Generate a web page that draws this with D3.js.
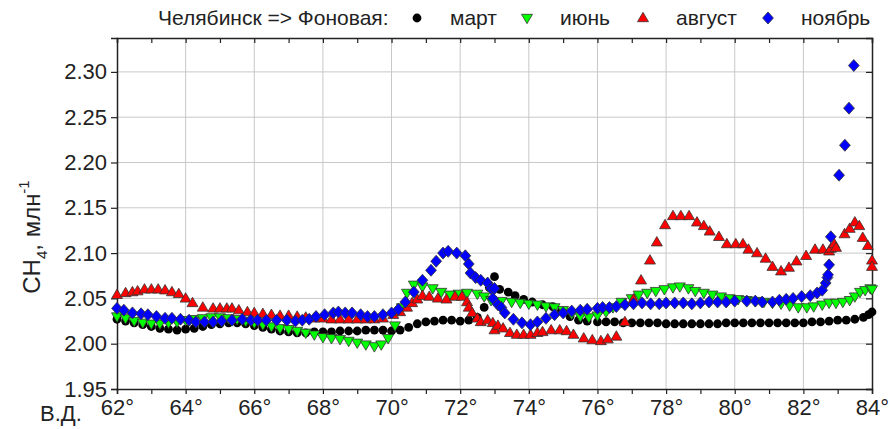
<!DOCTYPE html>
<html>
<head>
<meta charset="utf-8">
<script src="https://cdn.jsdelivr.net/npm/d3@7"></script>
<style>
  body { margin: 0; background: #fff; }
  svg { font-family: "Liberation Sans", Arial, sans-serif; }
</style>
</head>
<body>
<div id="chart"></div>
<script>
// Data: [longitude (deg E), CH4 ppm]
var marchData = [
  [62.0,2.027],[62.25,2.025],[62.5,2.023],[62.75,2.021],[63.0,2.019],[63.25,2.017],[63.5,2.016],[63.75,2.015],
  [64.0,2.016],[64.25,2.017],[64.5,2.019],[64.75,2.021],[65.0,2.022],[65.25,2.023],[65.5,2.023],[65.75,2.022],
  [66.0,2.020],[66.25,2.018],[66.5,2.016],[66.75,2.014],[67.0,2.013],[67.25,2.012],[67.5,2.012],[67.75,2.013],
  [68.0,2.013],[68.25,2.013],[68.5,2.014],[68.75,2.014],[69.0,2.014],[69.25,2.015],[69.5,2.015],[69.75,2.015],
  [70.0,2.014],[70.25,2.015],[70.5,2.018],[70.75,2.022],[71.0,2.024],[71.25,2.025],[71.5,2.026],[71.75,2.026],
  [72.0,2.025],[72.25,2.026],[72.5,2.029],[72.7,2.040],[72.85,2.062],[73.0,2.074],[73.15,2.060],[73.4,2.057],
  [73.6,2.053],[73.85,2.049],[74.1,2.046],[74.4,2.043],[74.7,2.041],[74.95,2.036],[75.2,2.030],[75.45,2.026],
  [75.7,2.025],[76.0,2.024],[76.25,2.024],[76.5,2.024],[76.75,2.023],[77.0,2.023],[77.25,2.023],[77.5,2.023],
  [77.75,2.023],[78.0,2.022],[78.25,2.022],[78.5,2.022],[78.75,2.022],[79.0,2.022],[79.25,2.022],[79.5,2.022],
  [79.75,2.023],[80.0,2.023],[80.25,2.023],[80.5,2.023],[80.75,2.023],[81.0,2.023],[81.25,2.023],[81.5,2.023],
  [81.75,2.023],[82.0,2.023],[82.25,2.024],[82.5,2.024],[82.75,2.025],[83.0,2.026],[83.25,2.026],[83.5,2.027],
  [83.75,2.029],[83.9,2.032],[84.0,2.035]
];
var juneData = [
  [62.0,2.030],[62.25,2.028],[62.5,2.025],[62.75,2.023],[63.0,2.022],[63.25,2.022],[63.5,2.023],[63.75,2.024],
  [64.0,2.026],[64.25,2.027],[64.5,2.028],[64.75,2.029],[65.0,2.029],[65.25,2.028],[65.5,2.027],[65.75,2.025],
  [66.0,2.023],[66.25,2.021],[66.5,2.019],[66.75,2.017],[67.0,2.016],[67.25,2.014],[67.5,2.012],[67.75,2.010],
  [68.0,2.007],[68.25,2.006],[68.5,2.005],[68.75,2.003],[69.0,2.001],[69.25,1.999],[69.5,1.997],[69.7,1.999],
  [69.9,2.006],[70.1,2.020],[70.3,2.040],[70.45,2.056],[70.65,2.065],[70.9,2.063],[71.2,2.061],[71.45,2.057],
  [71.7,2.054],[71.95,2.055],[72.2,2.056],[72.5,2.055],[72.7,2.052],[72.9,2.048],[73.2,2.047],[73.5,2.046],
  [73.75,2.045],[74.0,2.044],[74.25,2.043],[74.5,2.041],[74.75,2.040],[75.0,2.037],[75.25,2.033],[75.5,2.030],
  [75.75,2.029],[76.0,2.031],[76.25,2.035],[76.45,2.040],[76.7,2.046],[77.0,2.050],[77.2,2.054],[77.45,2.056],
  [77.7,2.058],[77.95,2.060],[78.2,2.062],[78.4,2.063],[78.65,2.061],[78.85,2.058],[79.1,2.056],[79.35,2.054],
  [79.6,2.052],[79.85,2.050],[80.1,2.049],[80.35,2.048],[80.6,2.047],[80.85,2.046],[81.1,2.045],[81.35,2.044],
  [81.6,2.042],[81.85,2.040],[82.1,2.040],[82.3,2.041],[82.55,2.043],[82.75,2.045],[82.95,2.045],[83.15,2.046],
  [83.35,2.048],[83.5,2.052],[83.65,2.057],[83.8,2.059],[83.95,2.061],[84.0,2.060]
];
var augustData = [
  [62.0,2.054],[62.25,2.056],[62.45,2.057],[62.6,2.058],[62.8,2.060],[63.0,2.060],[63.2,2.060],[63.4,2.059],
  [63.6,2.057],[63.8,2.055],[64.0,2.050],[64.2,2.045],[64.5,2.040],[64.8,2.039],[65.0,2.039],[65.2,2.039],
  [65.35,2.039],[65.55,2.037],[65.8,2.035],[66.0,2.034],[66.25,2.033],[66.5,2.032],[66.75,2.031],[67.0,2.031],
  [67.25,2.030],[67.5,2.029],[67.75,2.028],[68.0,2.028],[68.25,2.027],[68.5,2.027],[68.75,2.027],[69.0,2.027],
  [69.25,2.027],[69.5,2.027],[69.75,2.028],[70.05,2.032],[70.25,2.035],[70.45,2.040],[70.6,2.045],[70.75,2.049],
  [70.9,2.053],[71.1,2.052],[71.35,2.050],[71.6,2.049],[71.85,2.052],[72.05,2.052],[72.2,2.046],[72.25,2.040],
  [72.35,2.034],[72.5,2.028],[72.6,2.024],[72.8,2.026],[72.95,2.023],[73.0,2.015],[73.1,2.020],[73.25,2.017],
  [73.45,2.012],[73.65,2.010],[73.85,2.010],[74.05,2.010],[74.25,2.012],[74.4,2.013],[74.65,2.015],[74.9,2.015],
  [75.1,2.014],[75.3,2.010],[75.6,2.006],[75.85,2.004],[76.1,2.003],[76.3,2.005],[76.55,2.008],[76.8,2.024],
  [77.05,2.049],[77.27,2.070],[77.53,2.092],[77.73,2.112],[77.97,2.131],[78.2,2.141],[78.43,2.141],[78.67,2.141],
  [78.9,2.134],[79.1,2.130],[79.27,2.124],[79.54,2.118],[79.77,2.110],[80.03,2.110],[80.24,2.110],[80.4,2.104],
  [80.65,2.100],[80.9,2.094],[81.1,2.085],[81.35,2.080],[81.58,2.084],[81.8,2.091],[82.08,2.097],[82.34,2.104],
  [82.57,2.104],[82.75,2.102],[82.8,2.105],[82.9,2.110],[82.95,2.106],[83.2,2.121],[83.35,2.127],[83.5,2.134],
  [83.63,2.130],[83.73,2.117],[83.88,2.108],[84.0,2.092],[84.0,2.085]
];
var novemberData = [
  [62.0,2.039],[62.2,2.037],[62.45,2.034],[62.7,2.033],[62.9,2.032],[63.15,2.030],[63.4,2.028],[63.6,2.028],
  [63.85,2.027],[64.1,2.026],[64.3,2.024],[64.55,2.024],[64.8,2.024],[65.05,2.025],[65.35,2.026],[65.65,2.027],
  [65.9,2.026],[66.1,2.026],[66.35,2.026],[66.65,2.026],[66.95,2.026],[67.2,2.025],[67.4,2.026],[67.6,2.027],
  [67.8,2.030],[68.05,2.032],[68.3,2.034],[68.45,2.035],[68.65,2.034],[68.85,2.034],[69.1,2.032],[69.3,2.030],
  [69.5,2.030],[69.75,2.032],[70.0,2.034],[70.2,2.038],[70.4,2.046],[70.65,2.057],[70.9,2.070],[71.15,2.081],
  [71.3,2.091],[71.5,2.100],[71.65,2.102],[71.9,2.100],[72.15,2.097],[72.25,2.088],[72.3,2.078],[72.45,2.073],
  [72.6,2.070],[72.8,2.067],[72.9,2.061],[73.0,2.061],[72.95,2.050],[73.1,2.043],[73.2,2.040],[73.3,2.034],
  [73.55,2.027],[73.8,2.023],[74.05,2.021],[74.25,2.024],[74.5,2.028],[74.75,2.032],[75.0,2.034],[75.25,2.036],
  [75.5,2.037],[75.7,2.038],[76.0,2.039],[76.15,2.040],[76.35,2.040],[76.55,2.041],[76.8,2.043],[77.05,2.044],
  [77.3,2.045],[77.55,2.044],[77.8,2.044],[78.0,2.045],[78.25,2.045],[78.5,2.045],[78.75,2.044],[79.0,2.045],
  [79.25,2.046],[79.5,2.046],[79.75,2.046],[80.0,2.047],[80.35,2.047],[80.6,2.047],[80.8,2.046],[81.1,2.046],
  [81.3,2.048],[81.5,2.049],[81.7,2.050],[81.95,2.052],[82.2,2.053],[82.4,2.056],[82.55,2.059],[82.65,2.067],
  [82.7,2.073],[82.72,2.076],[82.75,2.087],[82.8,2.118],[83.04,2.186],[83.21,2.219],[83.33,2.260],[83.47,2.307]
];

var seriesNames = ["март", "июнь", "август", "ноябрь"];
var seriesColors = ["#000000", "#00ff00", "#ff0000", "#0000ff"];
var seriesShapes = ["circle", "down", "up", "diamond"];
var legendTitle = "Челябинск => Фоновая:";
var yTicks = [1.95, 2.00, 2.05, 2.10, 2.15, 2.20, 2.25, 2.30];
var xTicks = [62, 64, 66, 68, 70, 72, 74, 76, 78, 80, 82, 84];
var xMinor = [63, 65, 67, 69, 71, 73, 75, 77, 79, 81, 83];

// Placement (plot frame in px)
var width = 890, height = 429,
  pLeft = 117, pRight = 872, pTop = 38, pBottom = 389;

var svg = d3.select("#chart").append("svg")
  .attr("width", width)
  .attr("height", height);

var x = d3.scaleLinear().domain([62, 84]).range([pLeft, pRight]);
var y = d3.scaleLinear().domain([1.95, 2.3374]).range([pBottom, pTop]);

// grid
svg.append("g").selectAll("line")
  .data(yTicks.slice(1))
  .enter().append("line")
  .attr("x1", pLeft).attr("x2", pRight)
  .attr("y1", function(d) { return y(d); })
  .attr("y2", function(d) { return y(d); })
  .attr("stroke", "#c8c8c8").attr("stroke-width", 1);

svg.append("g").selectAll("line")
  .data(xTicks.slice(1, -1))
  .enter().append("line")
  .attr("y1", pTop).attr("y2", pBottom)
  .attr("x1", function(d) { return x(d); })
  .attr("x2", function(d) { return x(d); })
  .attr("stroke", "#c8c8c8").attr("stroke-width", 1);

// axes
var bottomAxis = svg.append("g")
  .attr("transform", "translate(0," + pBottom + ")")
  .call(d3.axisBottom(x).tickValues(xTicks).tickSize(5).tickPadding(4)
    .tickFormat(function(d) { return d + "°"; }));
svg.append("g")
  .attr("transform", "translate(0," + pBottom + ")")
  .call(d3.axisBottom(x).tickValues(xMinor).tickSize(5).tickFormat(""))
  .select(".domain").remove();

var leftAxis = svg.append("g")
  .attr("transform", "translate(" + pLeft + ",0)")
  .call(d3.axisLeft(y).tickValues(yTicks).tickSize(6).tickPadding(4)
    .tickFormat(d3.format(".2f")));

// top and right mirrored ticks
svg.append("g")
  .attr("transform", "translate(0," + pTop + ")")
  .call(d3.axisTop(x).tickValues(xTicks.concat(xMinor)).tickSize(-5).tickFormat(""));
svg.append("g")
  .attr("transform", "translate(" + pRight + ",0)")
  .call(d3.axisRight(y).tickValues(yTicks).tickSize(-6).tickFormat(""));

svg.selectAll(".domain").attr("stroke", "#222").attr("stroke-width", 1.5);
svg.selectAll(".tick line").attr("stroke", "#222").attr("stroke-width", 1.2);
svg.selectAll(".tick text").attr("fill", "#222").style("font-size", "22px");
bottomAxis.selectAll(".tick text").attr("dy", "0.75em");

// axis labels
svg.append("text")
  .attr("x", 40).attr("y", 421)
  .style("font-size", "22px").attr("fill", "#222")
  .text("В.Д.");

var yLabel = svg.append("text")
  .attr("transform", "translate(40,237) rotate(-90)")
  .attr("text-anchor", "middle")
  .style("font-size", "24px").attr("fill", "#222");
yLabel.append("tspan").text("CH");
yLabel.append("tspan").attr("dy", 7).style("font-size", "15px").text("4");
yLabel.append("tspan").attr("dy", -7).text(", млн");
yLabel.append("tspan").attr("dy", -11).style("font-size", "15px").text("-1");

// markers
function shapePath(shape) {
  if (shape === "circle") return "M4.4,0A4.4,4.4 0 1,1 -4.4,0A4.4,4.4 0 1,1 4.4,0Z";
  if (shape === "up") return "M0,-5.7L5.5,3.7L-5.5,3.7Z";
  if (shape === "down") return "M0,5.7L5.5,-3.7L-5.5,-3.7Z";
  return "M0,-6L5.4,0L0,6L-5.4,0Z";
}

var allData = [marchData, juneData, augustData, novemberData];

allData.forEach(function(data, i) {
  svg.append("g").selectAll("path")
    .data(data)
    .enter().append("path")
    .attr("d", shapePath(seriesShapes[i]))
    .attr("transform", function(d) { return "translate(" + x(d[0]) + "," + y(d[1]) + ")"; })
    .attr("fill", seriesColors[i])
    .attr("stroke", i === 0 ? "none" : "#333")
    .attr("stroke-width", 0.8);
});

// legend
var legend = svg.append("g").style("font-size", "21px").attr("fill", "#222");
legend.append("text").attr("x", 158).attr("y", 25).text(legendTitle);
var legendX = [417, 527, 643, 768];
seriesNames.forEach(function(name, i) {
  legend.append("path")
    .attr("d", shapePath(seriesShapes[i]))
    .attr("transform", "translate(" + legendX[i] + ",18)")
    .attr("fill", seriesColors[i])
    .attr("stroke", i === 0 ? "none" : "#333")
    .attr("stroke-width", 0.8);
  legend.append("text")
    .attr("x", legendX[i] + 33).attr("y", 25)
    .text(name);
});
</script>
</body>
</html>
